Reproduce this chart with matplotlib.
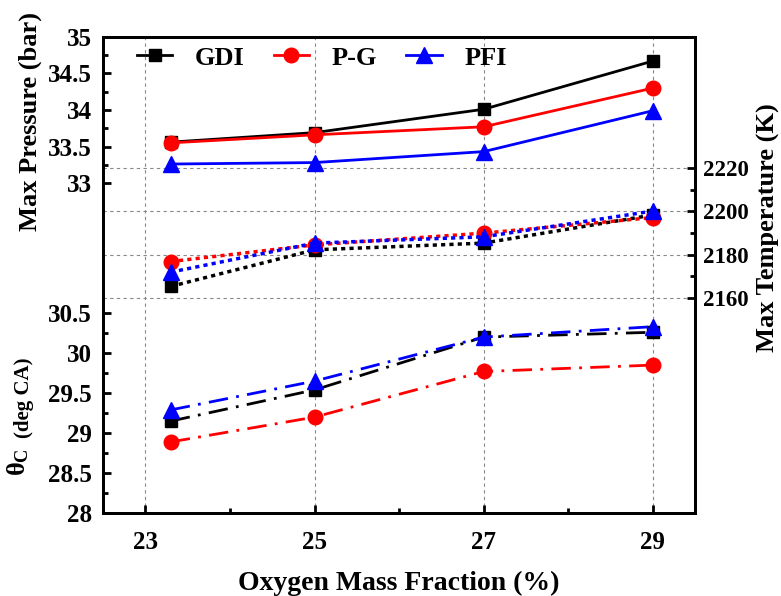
import matplotlib
matplotlib.use('Agg')
import matplotlib.pyplot as plt
import matplotlib.transforms as mtransforms
from matplotlib.ticker import FixedLocator

plt.rcParams['font.family'] = ['Liberation Serif', 'DejaVu Serif']
plt.rcParams['font.weight'] = 'bold'
plt.rcParams['mathtext.fontset'] = 'custom'
plt.rcParams['mathtext.rm'] = 'Liberation Serif:bold'
plt.rcParams['mathtext.it'] = 'Liberation Serif:bold'
plt.rcParams['mathtext.bf'] = 'Liberation Serif:bold'

# Oxygen mass fraction (%)
oxygen = [23.3, 25, 27, 29]
series = ['GDI', 'P-G', 'PFI']
colors = {'GDI': 'black', 'P-G': '#FF0000', 'PFI': '#0000FF'}
markers = {'GDI': 's', 'P-G': 'o', 'PFI': '^'}
msizes = {'GDI': 9, 'P-G': 10.5, 'PFI': 11}

# Max pressure (bar)
p_gdi = [33.56, 33.69, 34.01, 34.67]
p_pg = [33.55, 33.66, 33.77, 34.30]
p_pfi = [33.26, 33.28, 33.43, 33.99]

# Max temperature (K)
t_gdi = [2165.4, 2182.3, 2185.4, 2198.4]
t_pg = [2176.9, 2184.6, 2190.0, 2197.2]
t_pfi = [2172.0, 2185.4, 2188.3, 2200.2]

# Combustion phasing theta_C (deg CA)
c_gdi = [29.15, 29.54, 30.20, 30.26]
c_pg = [28.89, 29.20, 29.77, 29.85]
c_pfi = [29.29, 29.65, 30.20, 30.33]

pressure = {'GDI': p_gdi, 'P-G': p_pg, 'PFI': p_pfi}
temperature = {'GDI': t_gdi, 'P-G': t_pg, 'PFI': t_pfi}
theta = {'GDI': c_gdi, 'P-G': c_pg, 'PFI': c_pfi}

TICK_FS = 18
RTICK_FS = 16.5
LABEL_FS = 19

fig = plt.figure(figsize=(7.81, 5.96), dpi=100)
ax = fig.add_axes([0.132, 0.139, 0.758, 0.799])
ax_t = ax.twinx()
ax_c = ax.twinx()

ax.set_xlim(22.5, 29.5)
ax.set_ylim(28.48, 35.0)
ax_t.set_ylim(2060.7, 2280.6)
ax_c.set_ylim(28.0, 33.95)

# grid: vertical from x ticks, horizontal from temperature ticks (drawn on bottom axes)
temp_ticks = [2160, 2180, 2200, 2220]
grid_kw = dict(color='#888888', linewidth=0.8, linestyle=(0, (3, 3)), zorder=0)
for xv in [23, 25, 27, 29]:
    ax.axvline(xv, **grid_kw)
trans = mtransforms.blended_transform_factory(ax.transAxes, ax_t.transData)
for tv in temp_ticks:
    ax.plot([0, 1], [tv, tv], transform=trans, **grid_kw)

handles = []
for s in series:
    h, = ax.plot(oxygen, pressure[s], color=colors[s], marker=markers[s],
                 markersize=msizes[s], linewidth=2, label=s, zorder=3)
    handles.append(h)
    ax_t.plot(oxygen, temperature[s], color=colors[s], marker=markers[s],
              markersize=msizes[s], linewidth=2.5, linestyle=(0, (1.2, 1.2)), zorder=3)
    ax_c.plot(oxygen, theta[s], color=colors[s], marker=markers[s],
              markersize=msizes[s], linewidth=2, linestyle=(0, (7, 3, 1, 3)), zorder=3)

# x axis
ax.set_xticks([23, 25, 27, 29])
ax.xaxis.set_minor_locator(FixedLocator([24, 26, 28]))
ax.set_xlabel('Oxygen Mass Fraction (%)', fontsize=LABEL_FS + 1, fontweight='bold', labelpad=12)

# pressure axis (left, upper part)
ax.set_yticks([33, 33.5, 34, 34.5, 35])
ax.set_yticklabels(['33', '33.5', '34', '34.5', '35'])
ax.yaxis.set_minor_locator(FixedLocator([33.25, 33.75, 34.25, 34.75]))
ax.set_ylabel('Max Pressure (bar)', fontsize=LABEL_FS, fontweight='bold')
ax.yaxis.set_label_coords(-0.104, 0.822)

# temperature axis (right)
ax_t.set_yticks(temp_ticks)
ax_t.yaxis.set_minor_locator(FixedLocator([2170, 2190, 2210]))
ax_t.set_ylabel('Max Temperature (K)', fontsize=LABEL_FS, fontweight='bold')
ax_t.yaxis.set_label_coords(1.104, 0.60)

# theta_C axis (left, lower part)
ax_c.yaxis.tick_left()
ax_c.set_yticks([28, 28.5, 29, 29.5, 30, 30.5])
ax_c.set_yticklabels(['28', '28.5', '29', '29.5', '30', '30.5'])
ax_c.yaxis.set_minor_locator(FixedLocator([28.25, 28.75, 29.25, 29.75, 30.25]))
for a in (ax, ax_t, ax_c):
    for sp in a.spines.values():
        sp.set_linewidth(2)
for side in ('left', 'right', 'top', 'bottom'):
    ax_c.spines[side].set_visible(False)

for a in (ax, ax_t, ax_c):
    a.tick_params(which='major', direction='in', length=6, width=2, labelsize=TICK_FS, pad=8)
    a.tick_params(which='minor', direction='in', length=3.5, width=2)
ax_t.tick_params(which='major', labelsize=RTICK_FS, pad=6)
ax.tick_params(axis='x', which='major', pad=13)

fig.text(25 / 781, 1 - 476 / 596, r'$\theta_\mathrm{C}$', rotation=90, fontsize=19,
         ha='left', va='baseline', rotation_mode='anchor')
fig.text(29 / 781, 1 - 438 / 596, '(deg CA)', rotation=90, fontsize=15,
         fontweight='bold', ha='left', va='baseline', rotation_mode='anchor')

ax.legend(handles=handles, loc='center left', bbox_to_anchor=(0.057, 0.956), ncol=3,
          frameon=False, fontsize=19, handlelength=1.35, handletextpad=0.85,
          columnspacing=1.1, borderaxespad=0, borderpad=0)

fig.savefig('out.png', dpi=100)
